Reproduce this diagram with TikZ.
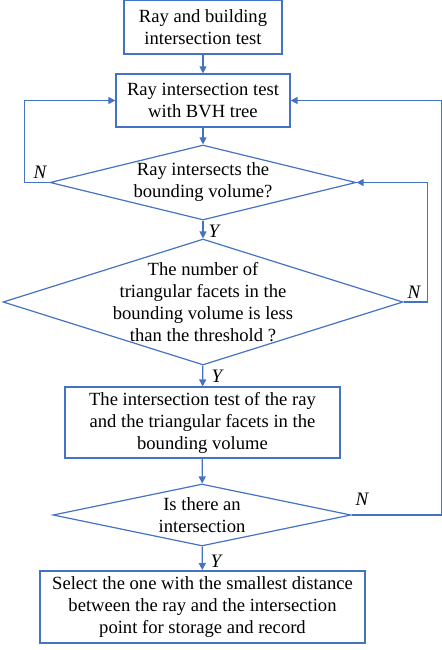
\documentclass[tikz,border=0pt]{standalone}
\usepackage{fontspec}
\setmainfont{Liberation Serif}
\usetikzlibrary{shapes.geometric,arrows.meta}
\definecolor{azul}{HTML}{4472C4}
\tikzset{
  caja/.style={draw=azul, line width=0.6pt, align=center, inner sep=0pt},
  rombo/.style={draw=azul, line width=0.6pt, diamond, inner sep=0pt},
  flecha/.style={draw=azul, line width=0.6pt, -{Triangle[length=3.5pt,width=3.5pt]}},
  etiq/.style={font=\fontsize{9.5}{11}\itshape}
}
\begin{document}
\begin{tikzpicture}[x=0.5pt,y=-0.5pt,font=\fontsize{9.3}{11}\selectfont]
    \useasboundingbox (0,0) rectangle (442,650);
    % Cajas
    \node[caja, minimum width=79pt, minimum height=27pt] (inicio) at (203,27)
        {Ray and building\\intersection test};
    \node[caja, minimum width=87pt, minimum height=26.5pt] (bvh) at (203,100.5)
        {Ray intersection test\\with BVH tree};
    \node[caja, minimum width=137.5pt, minimum height=35.5pt] (facetas) at (202.5,422.5)
        {The intersection test of the ray\\and the triangular facets in the\\bounding volume};
    \node[caja, line width=1pt, minimum width=162.5pt, minimum height=36pt] (registro) at (202.5,607)
        {Select the one with the smallest distance\\between the ray and the intersection\\point for storage and record};
    % Rombos
    \node[rombo, minimum width=153pt, minimum height=37.5pt] (volumen) at (203,182.5) {};
    \node[align=center] (tvolumen) at (volumen) {Ray intersects the\\bounding volume?};
    \node[rombo, minimum width=200pt, minimum height=63pt] (umbral) at (203,302) {};
    \node[align=center] (tumbral) at (umbral)
        {The number of\\triangular facets in the\\bounding volume is less\\than the threshold ?};
    \node[rombo, minimum width=149pt, minimum height=31pt] (corte) at (202,515) {};
    \node[align=center] (tcorte) at (corte) {Is there an\\intersection};
    % Flechas
    \draw[flecha] (inicio) -- (bvh);
    \draw[flecha] (bvh) -- (volumen);
    \draw[flecha] (volumen) -- (umbral);
    \draw[flecha] (umbral) -- (facetas);
    \draw[flecha] (facetas) -- (corte);
    \draw[flecha] (corte) -- (registro);
    % Retornos
    \draw[flecha] (volumen.west) -- ++(-25,0) |- (bvh.west);
    \draw[flecha] (umbral.east) -- ++(24,0) |- (volumen.east);
    \draw[flecha] (corte.east) -- ++(90,0) |- (bvh.east);
    % Etiquetas
    \node[etiq] (n1) at (40,172) {N};
    \node[etiq] (y1) at (214,231) {Y};
    \node[etiq] (n2) at (414,292) {N};
    \node[etiq] (y2) at (217,376) {Y};
    \node[etiq] (n3) at (362,499) {N};
    \node[etiq] (y3) at (216,561) {Y};
\end{tikzpicture}
\end{document}
